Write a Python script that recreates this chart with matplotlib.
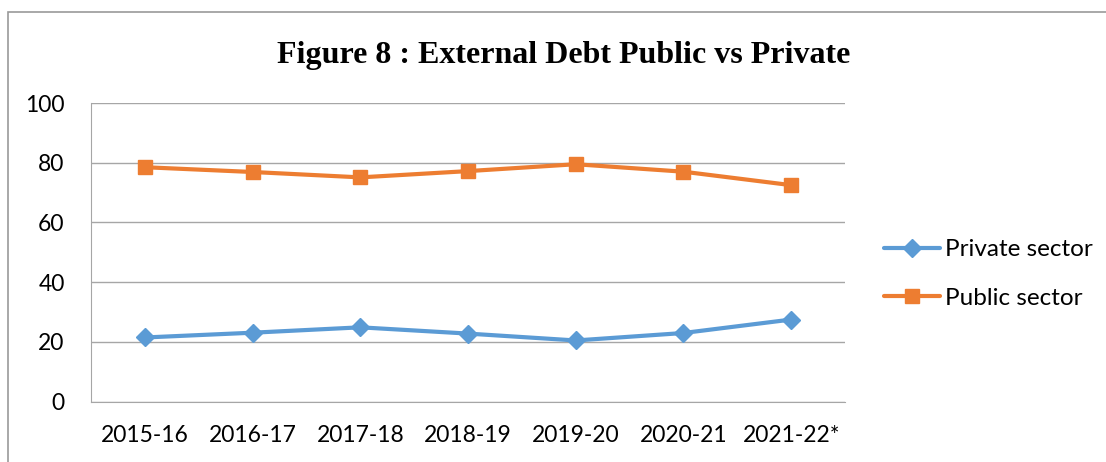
import matplotlib
matplotlib.use("Agg")
import matplotlib.pyplot as plt
from matplotlib.patches import Rectangle

# external debt share by sector (% of total)
years = ["2015-16", "2016-17", "2017-18", "2018-19", "2019-20", "2020-21", "2021-22*"]
private_sector = [21.5, 23.1, 24.9, 22.8, 20.5, 23.0, 27.5]
public_sector = [78.5, 76.9, 75.1, 77.2, 79.5, 77.0, 72.5]
y_ticks = [0, 20, 40, 60, 80, 100]

BLUE = "#5B9BD5"
ORANGE = "#ED7D31"
GRID = "#A6A6A6"

plt.rcParams["font.family"] = ["Lato", "DejaVu Sans"]

fig = plt.figure(figsize=(11.06, 4.62), dpi=100)
ax = fig.add_axes([91 / 1106, 1 - 401.7 / 462, (845 - 91) / 1106, (401.7 - 103) / 462])

x = list(range(len(years)))
ax.plot(x, private_sector, color=BLUE, lw=3, marker="D", markersize=9,
        label="Private sector", solid_capstyle="round")
ax.plot(x, public_sector, color=ORANGE, lw=3, marker="s", markersize=10,
        label="Public sector", solid_capstyle="round")

ax.set_xlim(-0.5, len(years) - 0.5)
ax.set_ylim(0, 100)
ax.set_yticks(y_ticks)
ax.set_xticks(x)
ax.set_xticklabels(years)
ax.yaxis.grid(True, color=GRID, lw=1)
ax.set_axisbelow(True)
for side in ["top", "right"]:
    ax.spines[side].set_visible(False)
ax.spines["left"].set_color(GRID)
ax.spines["bottom"].set_color(GRID)
ax.tick_params(axis="both", length=0, labelsize=16.5, colors="black")
ax.tick_params(axis="y", pad=19)
ax.tick_params(axis="x", pad=17)

fig.text(564 / 1106, 1 - 55 / 462, "Figure 8 : External Debt Public vs Private",
         ha="center", va="center", fontsize=23, fontweight="bold",
         family="Liberation Serif")

fig.legend(loc="center left", bbox_to_anchor=(884 / 1106, 1 - 274 / 462),
           frameon=False, fontsize=17.5, handlelength=2.3, handletextpad=0.2,
           labelspacing=1.15, borderpad=0, borderaxespad=0)

# chart frame (top and left edges only show)
fig.patches.append(Rectangle((8 / 1106, -0.1), 1.2, 1.1 - 12 / 462,
                             transform=fig.transFigure, fill=False,
                             edgecolor="#9A9A9A", lw=1.2))

fig.savefig("out.png", dpi=100)
